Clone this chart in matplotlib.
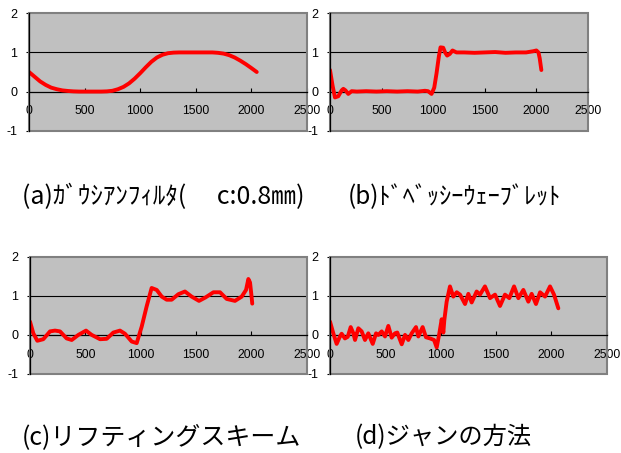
import matplotlib
matplotlib.use("Agg")
import matplotlib.pyplot as plt
from matplotlib.patches import Rectangle

plt.rcParams["font.family"] = ["Liberation Sans", "DejaVu Sans"]
plt.rcParams["axes.unicode_minus"] = False

# (a) Gaussian filter
xa = [0, 50, 100, 150, 200, 250, 300, 350, 400, 450, 500, 550, 600, 650, 700,
      750, 800, 850, 900, 950, 1000, 1050, 1100, 1150, 1200, 1250, 1300, 1350,
      1400, 1450, 1500, 1550, 1600, 1650, 1700, 1750, 1800, 1850, 1900, 1950,
      2000, 2048]
ya = [0.5, 0.38, 0.26, 0.17, 0.1, 0.06, 0.03, 0.015, 0.005, 0.0, 0.0, 0.0, 0.0,
      0.0, 0.005, 0.02, 0.06, 0.12, 0.21, 0.33, 0.47, 0.62, 0.76, 0.87, 0.94,
      0.98, 0.995, 1.0, 1.0, 1.0, 1.0, 1.0, 1.0, 1.0, 0.99, 0.97, 0.93, 0.87,
      0.79, 0.7, 0.6, 0.5]

# (b) Daubechies wavelet
xb = [0, 25, 48, 80, 113, 129, 150, 177, 210, 260, 350, 450, 550, 650, 750,
      850, 920, 950, 984, 1010, 1032, 1055, 1071, 1097, 1115, 1135, 1160, 1187,
      1226, 1300, 1400, 1500, 1600, 1700, 1800, 1900, 1968, 2000, 2020, 2032,
      2048]
yb = [0.55, 0.15, -0.15, -0.12, 0.03, 0.07, 0.03, -0.06, 0.01, 0.0, 0.01, 0.0,
      0.01, 0.0, 0.01, 0.0, 0.02, 0.01, -0.06, 0.1, 0.46, 0.9, 1.13, 1.12,
      1.0, 0.92, 0.96, 1.05, 1.0, 1.0, 0.99, 1.0, 1.01, 0.99, 1.0, 1.0, 1.03,
      1.05, 1.0, 0.85, 0.55]

# (c) lifting scheme
xc = [0, 30, 66, 120, 181, 226, 271, 331, 377, 437, 506, 557, 633, 693, 753,
      813, 858, 919, 964, 1009, 1054, 1099, 1145, 1190, 1235, 1280, 1340, 1400,
      1460, 1527, 1587, 1657, 1717, 1777, 1852, 1913, 1952, 1973, 1988, 2003,
      2008]
yc = [0.34, 0.04, -0.15, -0.11, 0.09, 0.11, 0.09, -0.09, -0.13, 0.0, 0.11, 0.0,
      -0.11, -0.1, 0.06, 0.11, 0.03, -0.17, -0.21, 0.21, 0.73, 1.2, 1.15, 0.98,
      0.9, 0.9, 1.04, 1.11, 0.98, 0.87, 0.96, 1.09, 1.09, 0.92, 0.87, 0.98,
      1.15, 1.43, 1.34, 0.95, 0.8]

# (d) Jan's method
xd = [0, 30, 60, 90, 105, 135, 160, 187, 211, 226, 256, 286, 316, 346, 386,
      416, 437, 467, 497, 527, 557, 587, 608, 648, 678, 708, 738, 777, 798,
      837, 867, 904, 940, 964, 988, 1009, 1024, 1033, 1054, 1084, 1114, 1145,
      1175, 1220, 1250, 1280, 1325, 1355, 1400, 1446, 1491, 1536, 1581, 1620,
      1663, 1702, 1747, 1792, 1822, 1861, 1898, 1943, 1988, 2024, 2063]
yd = [0.34, 0.04, -0.23, -0.04, 0.03, -0.09, -0.05, 0.2, 0.04, -0.13, 0.17,
      0.09, -0.13, 0.04, -0.23, 0.04, 0.0, 0.09, -0.04, 0.23, -0.07, 0.04,
      0.06, -0.24, 0.0, -0.13, 0.04, 0.2, -0.04, 0.2, -0.06, -0.09, -0.13,
      -0.32, 0.04, 0.4, 0.06, 0.38, 0.85, 1.24, 0.98, 1.09, 1.03, 0.79, 1.05,
      0.83, 1.11, 1.03, 1.24, 0.94, 1.03, 0.74, 1.03, 0.94, 1.24, 0.94, 1.15,
      0.85, 1.05, 0.79, 1.09, 0.98, 1.24, 1.03, 0.68]

xticks = [0, 500, 1000, 1500, 2000, 2500]
yticks = [-1, 0, 1, 2]

captions = ["(a)ｶﾞｳｼｱﾝﾌｨﾙﾀ(　 c:0.8㎜)", "(b)ﾄﾞﾍﾞｯｼｰｳｪｰﾌﾞﾚｯﾄ",
            "(c)リフティングスキーム", "(d)ジャンの方法"]

fig = plt.figure(figsize=(6.21, 4.53), dpi=100)

boxes = [
    [29 / 621, 1 - 130.7 / 453, 278 / 621, 117.4 / 453],
    [330 / 621, 1 - 130.7 / 453, 258 / 621, 117.4 / 453],
    [30 / 621, 1 - 374 / 453, 276.7 / 621, 117.3 / 453],
    [330 / 621, 1 - 374 / 453, 276.7 / 621, 117.3 / 453],
]
series = [(xa, ya), (xb, yb), (xc, yc), (xd, yd)]

for box, (xs, ys) in zip(boxes, series):
    ax = fig.add_axes(box)
    ax.set_facecolor("#c0c0c0")
    ax.set_xlim(0, 2500)
    ax.set_ylim(-1, 2)
    ax.axhline(1, color="black", lw=0.8, zorder=1)
    ax.plot(xs, ys, color="red", lw=2.8, solid_joinstyle="round",
            solid_capstyle="round", zorder=3)
    ax.add_patch(Rectangle((0, 0), 1, 1, transform=ax.transAxes, fill=False,
                           edgecolor="#808080", lw=1.5, zorder=2, clip_on=False))
    for s in ["top", "right"]:
        ax.spines[s].set_visible(False)
    ax.spines["left"].set_color("black")
    ax.spines["left"].set_linewidth(0.9)
    ax.spines["left"].set_zorder(4)
    ax.spines["bottom"].set_position(("data", 0))
    ax.spines["bottom"].set_color("black")
    ax.spines["bottom"].set_linewidth(0.9)
    ax.set_xticks(xticks)
    ax.set_yticks(yticks)
    ax.tick_params(axis="x", direction="in", length=3, pad=10, labelsize=8.7)
    ax.tick_params(axis="y", direction="out", length=2.5, pad=6, labelsize=9)

cap_font = ["Noto Sans CJK JP", "DejaVu Sans"]
fig.text(22 / 621, 1 - 197 / 453, captions[0], fontsize=18, family=cap_font,
         ha="left", va="center")
fig.text(348 / 621, 1 - 197 / 453, captions[1], fontsize=17.5, family=cap_font,
         ha="left", va="center")
fig.text(22 / 621, 1 - 437 / 453, captions[2], fontsize=18, family=cap_font,
         ha="left", va="center")
fig.text(355 / 621, 1 - 437 / 453, captions[3], fontsize=17.5, family=cap_font,
         ha="left", va="center")

fig.savefig("out.png", dpi=100)
